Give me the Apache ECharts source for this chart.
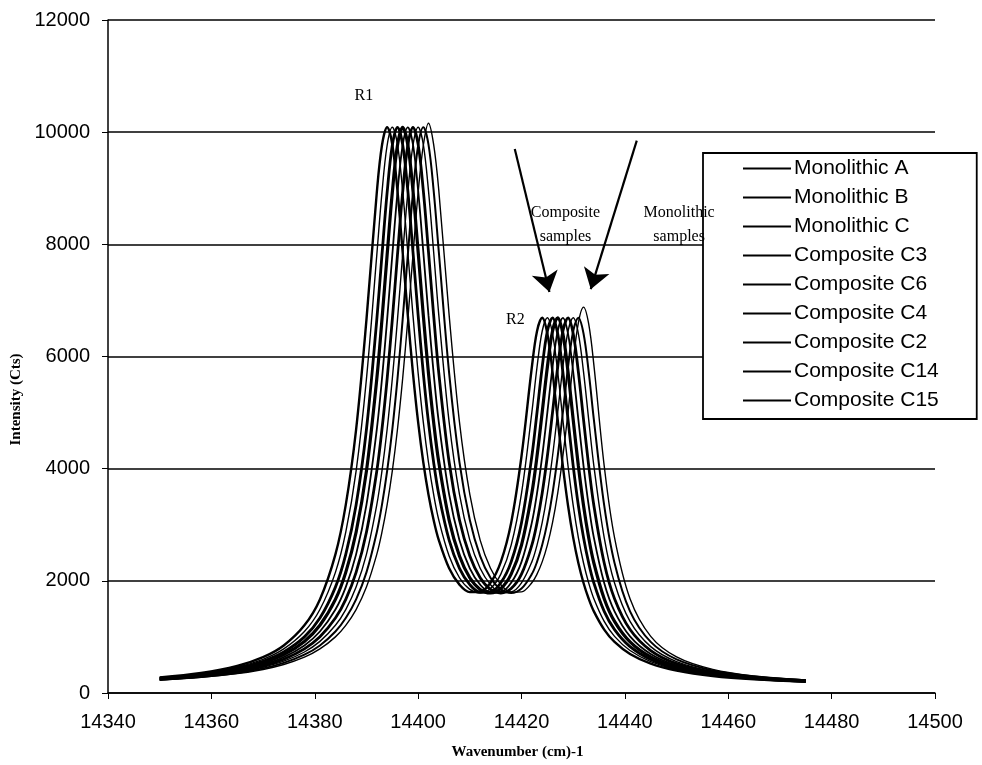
<!DOCTYPE html>
<html>
<head>
<meta charset="utf-8">
<script src="https://cdn.jsdelivr.net/npm/echarts@6/dist/echarts.min.js"></script>
<style>
  html, body { margin: 0; padding: 0; background: #fff; }
  #chart { width: 982px; height: 765px; }
</style>
</head>
<body>
<div id="chart"></div>
<script>
// R1 / R2 fluorescence spectra, intensities
const wavenumbers = [14350, 14358, 14365, 14370, 14374, 14378, 14381, 14384, 14386, 14388, 14390, 14392, 14393, 14394, 14395, 14396, 14397, 14398, 14399, 14400, 14401, 14402, 14403, 14404, 14406, 14408, 14410, 14412, 14414, 14416, 14418, 14420, 14422, 14423, 14424, 14425, 14426, 14427, 14428, 14429, 14430, 14431, 14432, 14433, 14434, 14436, 14438, 14441, 14445, 14450, 14457, 14465, 14475];

const monolithicA = [230, 278, 345, 420, 508, 639, 786, 1001, 1207, 1488, 1888, 2472, 2867, 3354, 3956, 4698, 5598, 6653, 7806, 8920, 9762, 10160, 9782, 8961, 6737, 4829, 3540, 2725, 2223, 1932, 1799, 1804, 1965, 2120, 2338, 2637, 3037, 3561, 4221, 5001, 5900, 6600, 6880, 6580, 5850, 4051, 2771, 1681, 1010, 643, 420, 304, 233];
const monolithicB = [235, 285, 357, 439, 537, 683, 848, 1096, 1336, 1669, 2151, 2867, 3354, 3956, 4698, 5598, 6653, 7806, 8920, 9762, 10087, 9782, 8961, 7868, 5705, 4114, 3084, 2442, 2055, 1847, 1783, 1863, 2120, 2338, 2637, 3037, 3561, 4221, 5001, 5808, 6450, 6690, 6409, 5725, 4875, 3344, 2318, 1456, 911, 598, 401, 295, 228];
const monolithicC = [240, 294, 371, 460, 567, 731, 920, 1207, 1488, 1888, 2472, 3354, 3956, 4698, 5598, 6653, 7806, 8920, 9762, 10087, 9782, 8961, 7868, 6737, 4829, 3540, 2725, 2223, 1932, 1799, 1804, 1965, 2338, 2637, 3037, 3561, 4221, 5001, 5808, 6450, 6690, 6409, 5725, 4875, 4051, 2771, 1962, 1277, 827, 560, 383, 286, 223];
const compositeC3 = [245, 302, 386, 482, 601, 786, 1001, 1336, 1669, 2151, 2867, 3956, 4698, 5598, 6653, 7806, 8920, 9762, 10087, 9782, 8961, 7868, 6737, 5705, 4114, 3084, 2442, 2055, 1847, 1783, 1863, 2120, 2637, 3037, 3561, 4221, 5001, 5808, 6450, 6690, 6409, 5725, 4875, 4051, 3344, 2318, 1681, 1131, 757, 524, 367, 277, 219];
const compositeC6 = [251, 311, 403, 508, 639, 848, 1096, 1488, 1888, 2472, 3354, 4698, 5598, 6653, 7806, 8920, 9762, 10087, 9782, 8961, 7868, 6737, 5705, 4829, 3540, 2725, 2223, 1932, 1799, 1804, 1965, 2338, 3037, 3561, 4221, 5001, 5808, 6450, 6690, 6409, 5725, 4875, 4051, 3344, 2771, 1962, 1456, 1010, 696, 494, 352, 270, 215];
const compositeC4 = [257, 322, 420, 537, 683, 920, 1207, 1669, 2151, 2867, 3956, 5598, 6653, 7806, 8920, 9762, 10087, 9782, 8961, 7868, 6737, 5705, 4829, 4114, 3084, 2442, 2055, 1847, 1783, 1863, 2120, 2637, 3561, 4221, 5001, 5808, 6450, 6690, 6409, 5725, 4875, 4051, 3344, 2771, 2318, 1681, 1277, 911, 643, 467, 339, 263, 211];
const compositeC2 = [264, 333, 439, 567, 731, 1001, 1336, 1888, 2472, 3354, 4698, 6653, 7806, 8920, 9762, 10087, 9782, 8961, 7868, 6737, 5705, 4829, 4114, 3540, 2725, 2223, 1932, 1799, 1804, 1965, 2338, 3037, 4221, 5001, 5808, 6450, 6690, 6409, 5725, 4875, 4051, 3344, 2771, 2318, 1962, 1456, 1131, 827, 598, 442, 327, 256, 207];
const compositeC14 = [271, 345, 460, 601, 786, 1096, 1488, 2151, 2867, 3956, 5598, 7806, 8920, 9762, 10087, 9782, 8961, 7868, 6737, 5705, 4829, 4114, 3540, 3084, 2442, 2055, 1847, 1783, 1863, 2120, 2637, 3561, 5001, 5808, 6450, 6690, 6409, 5725, 4875, 4051, 3344, 2771, 2318, 1962, 1681, 1277, 1010, 757, 560, 420, 315, 249, 203];
const compositeC15 = [278, 357, 482, 639, 848, 1207, 1669, 2472, 3354, 4698, 6653, 8920, 9762, 10087, 9782, 8961, 7868, 6737, 5705, 4829, 4114, 3540, 3084, 2725, 2223, 1932, 1799, 1804, 1965, 2338, 3037, 4221, 5808, 6450, 6690, 6409, 5725, 4875, 4051, 3344, 2771, 2318, 1962, 1681, 1456, 1131, 911, 696, 524, 401, 304, 243, 200];

const seriesNames = ['Monolithic A', 'Monolithic B', 'Monolithic C', 'Composite C3', 'Composite C6', 'Composite C4', 'Composite C2', 'Composite C14', 'Composite C15'];
const seriesValues = [monolithicA, monolithicB, monolithicC, compositeC3, compositeC6, compositeC4, compositeC2, compositeC14, compositeC15];
const lineWidths = [1.4, 2, 1.4, 2.8, 1.8, 3.2, 2.8, 1.4, 2.4];

const sans = "'Liberation Sans', Arial, sans-serif";
const serif = "'Liberation Serif', 'DejaVu Serif', serif";

const chart = echarts.init(document.getElementById('chart'));

const series = seriesNames.map((name, i) => ({
  name: name,
  type: 'line',
  data: wavenumbers.map((w, j) => [w, seriesValues[i][j]]),
  symbol: 'none',
  smooth: 0.35,
  lineStyle: { color: '#000', width: lineWidths[i] },
  itemStyle: { color: '#000' },
  z: 3
}));

// arrows + text annotations, placed in data coordinates
series.push({
  type: 'line',
  data: [],
  silent: true,
  markLine: {
    silent: true,
    symbol: ['none', 'arrow'],
    symbolSize: 20,
    label: { show: false },
    itemStyle: { color: '#000' },
    lineStyle: { color: '#000', width: 2.2, type: 'solid' },
    data: [
      [{ coord: [14418.7, 9700] }, { coord: [14425.4, 7150] }],
      [{ coord: [14442.3, 9850] }, { coord: [14433.4, 7200] }]
    ]
  },
  markPoint: {
    silent: true,
    symbol: 'circle',
    symbolSize: 0,
    label: {
      show: true,
      position: 'inside',
      color: '#000',
      fontFamily: serif,
      fontSize: 16,
      lineHeight: 24,
      formatter: (p) => p.name
    },
    data: [
      { name: 'R1', coord: [14389.5, 10650] },
      { name: 'R2', coord: [14418.8, 6650] },
      { name: 'Composite\nsamples', coord: [14428.5, 8350] },
      { name: 'Monolithic\nsamples', coord: [14450.5, 8350] }
    ]
  }
});

chart.setOption({
  animation: false,
  backgroundColor: '#fff',
  grid: { left: 108, right: 47, top: 20, bottom: 70 },
  legend: {
    data: seriesNames,
    orient: 'vertical',
    left: 703,
    top: 153,
    padding: [5, 38, 8, 39],
    itemGap: 8,
    itemWidth: 48,
    itemHeight: 14,
    itemStyle: { opacity: 0 },
    backgroundColor: '#fff',
    borderColor: '#000',
    borderWidth: 1.8,
    borderRadius: 0,
    textStyle: { color: '#000', fontFamily: sans, fontSize: 21, lineHeight: 20, padding: [0, 0, 0, -2] }
  },
  xAxis: {
    type: 'value',
    min: 14340,
    max: 14500,
    interval: 20,
    name: 'Wavenumber (cm)-1',
    nameLocation: 'middle',
    nameGap: 52,
    nameTextStyle: { color: '#000', fontFamily: serif, fontWeight: 'bold', fontSize: 15, padding: [0, 8, 0, 0] },
    axisLine: { show: true, lineStyle: { color: '#000', width: 1.5 } },
    axisTick: { show: true, inside: false, length: 6, lineStyle: { color: '#000' } },
    axisLabel: { color: '#000', fontFamily: sans, fontSize: 20, margin: 19, formatter: (v) => String(v) },
    splitLine: { show: false }
  },
  yAxis: {
    type: 'value',
    min: 0,
    max: 12000,
    interval: 2000,
    name: 'Intensity (Cts)',
    nameLocation: 'middle',
    nameGap: 84,
    nameRotate: 90,
    nameTextStyle: { color: '#000', fontFamily: serif, fontWeight: 'bold', fontSize: 15, padding: [0, 86, 0, 0] },
    axisLine: { show: true, lineStyle: { color: '#000', width: 1.5 } },
    axisTick: { show: true, inside: false, length: 6, lineStyle: { color: '#000' } },
    axisLabel: { color: '#000', fontFamily: sans, fontSize: 20, margin: 18, formatter: (v) => String(v) },
    splitLine: { show: true, lineStyle: { color: '#000', width: 1.5 } }
  },
  series: series
});
</script>
</body>
</html>
